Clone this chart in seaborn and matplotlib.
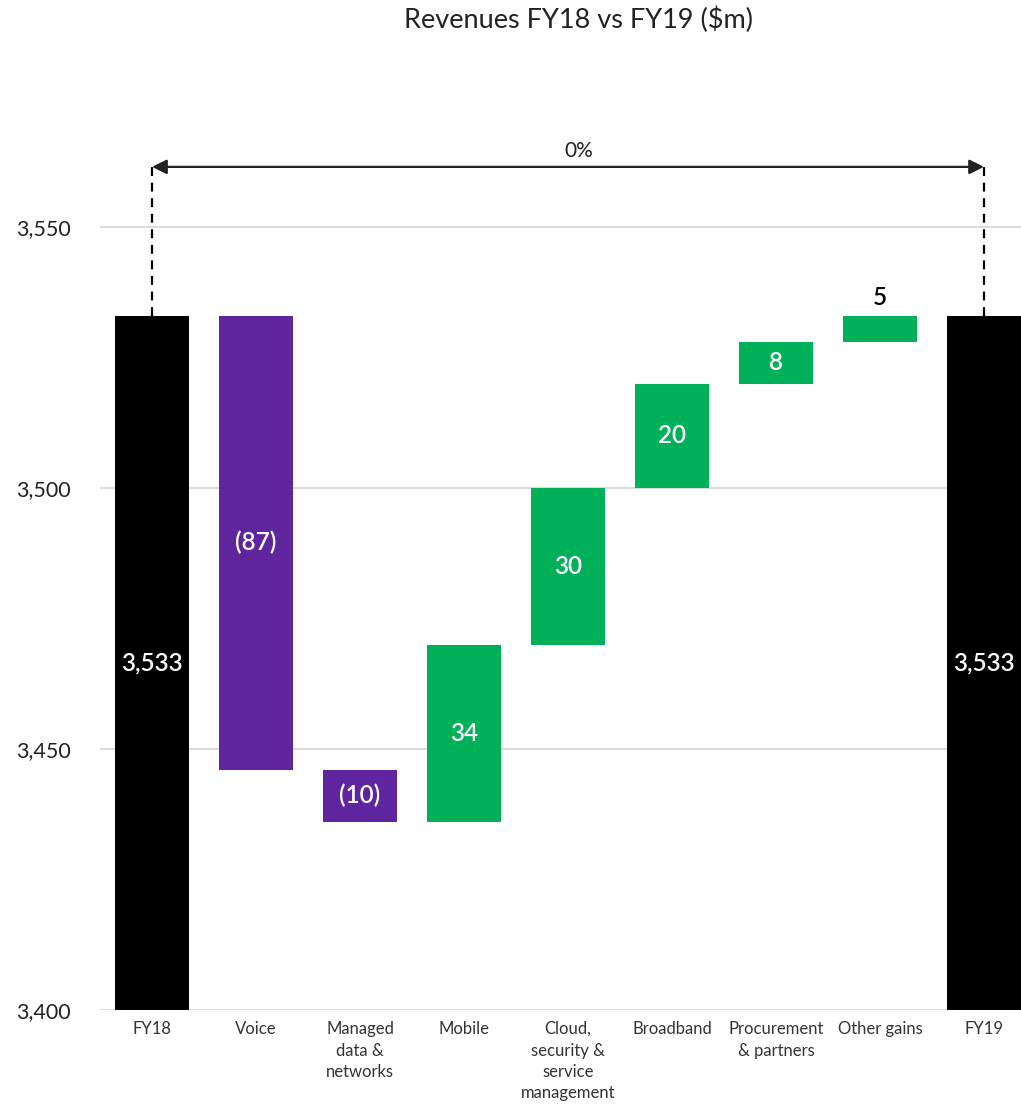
import numpy as np
import pandas as pd
import matplotlib
matplotlib.use("Agg")
import matplotlib.pyplot as plt
import seaborn as sns

# ---- data ----
categories = ["FY18", "Voice", "Managed\ndata &\nnetworks", "Mobile",
              "Cloud,\nsecurity &\nservice\nmanagement", "Broadband",
              "Procurement\n& partners", "Other gains", "FY19"]
start_value = 3533
end_value = 3533
changes = [-87, -10, 34, 30, 20, 8, 5]
bar_labels = ["3,533", "(87)", "(10)", "34", "30", "20", "8", "5", "3,533"]
change_pct_label = "0%"
yticks = [3400, 3450, 3500, 3550]

# ---- derive waterfall geometry from data ----
cum = start_value + np.cumsum([0] + changes)
bottoms = [0.0]
lengths = [float(start_value)]
for i, ch in enumerate(changes):
    lo = min(cum[i], cum[i + 1])
    bottoms.append(float(lo))
    lengths.append(float(abs(ch)))
bottoms.append(0.0)
lengths.append(float(end_value))

PURPLE = "#5F259F"
GREEN = "#00B159"
colors = ["black"] + [PURPLE if c < 0 else GREEN for c in changes] + ["black"]

df = pd.DataFrame({"cat": categories, "len": lengths})

sns.set_theme(style="white")
plt.rcParams["font.family"] = ["Lato", "DejaVu Sans"]

fig = plt.figure(figsize=(10.21, 11.09), dpi=100)
ax = fig.add_axes([0.098, 0.0893, 0.902, 0.8473])

sns.barplot(data=df, x="cat", y="len", bottom=bottoms, color="black",
            width=0.72, errorbar=None, ax=ax, zorder=3, linewidth=0)
for p, c in zip(ax.patches, colors):
    p.set_facecolor(c)
    p.set_edgecolor(c)

ax.set_ylim(3400, 3580)
ax.set_xlim(-0.5, 8.356)
ax.set_yticks(yticks)
ax.set_yticklabels([f"{v:,}" for v in yticks], fontsize=15.5, color="#222222")
ax.tick_params(axis="y", length=0, pad=21)
ax.tick_params(axis="x", length=0, pad=8)
ax.set_xticks(range(len(categories)))
ax.set_xticklabels(categories, fontsize=12, color="#333333", linespacing=1.42,
                   va="top")
ax.set_xlabel("")
ax.set_ylabel("")
ax.grid(axis="y", color="#dcdcdc", linewidth=1.5, zorder=0)
ax.set_axisbelow(True)
for s in ax.spines.values():
    s.set_visible(False)

# bar value labels
ymin = ax.get_ylim()[0]
for i, (b, l, lab) in enumerate(zip(bottoms, lengths, bar_labels)):
    top = b + l
    vis_bottom = max(b, ymin)
    if l < 8:
        ax.text(i, top + 1.3, lab, ha="center", va="bottom", fontsize=17.5,
                color="black", fontweight="semibold", zorder=5)
    else:
        ax.text(i, (vis_bottom + top) / 2, lab, ha="center", va="center",
                fontsize=17.5, color="white", fontweight="semibold", zorder=5)

# bracket arrow
arrow_y = 3561.5
ax.plot([0, 0], [start_value, arrow_y], ls=(0, (4, 3)), color="black", lw=1.6, zorder=4)
ax.plot([8, 8], [end_value, arrow_y], ls=(0, (4, 3)), color="black", lw=1.6, zorder=4)
ax.annotate("", xy=(0, arrow_y), xytext=(8, arrow_y),
            arrowprops=dict(arrowstyle="<|-|>", color="#222222", lw=1.6,
                            mutation_scale=22, shrinkA=0, shrinkB=0), zorder=4)
ax.text(4.1, arrow_y + 1.1, change_pct_label, ha="center", va="bottom",
        fontsize=15, color="#222222")

fig.text(0.567, 0.982, "Revenues FY18 vs FY19 ($m)", ha="center", va="center",
         fontsize=19.5, color="#222222")

fig.savefig("out.png", dpi=100)
